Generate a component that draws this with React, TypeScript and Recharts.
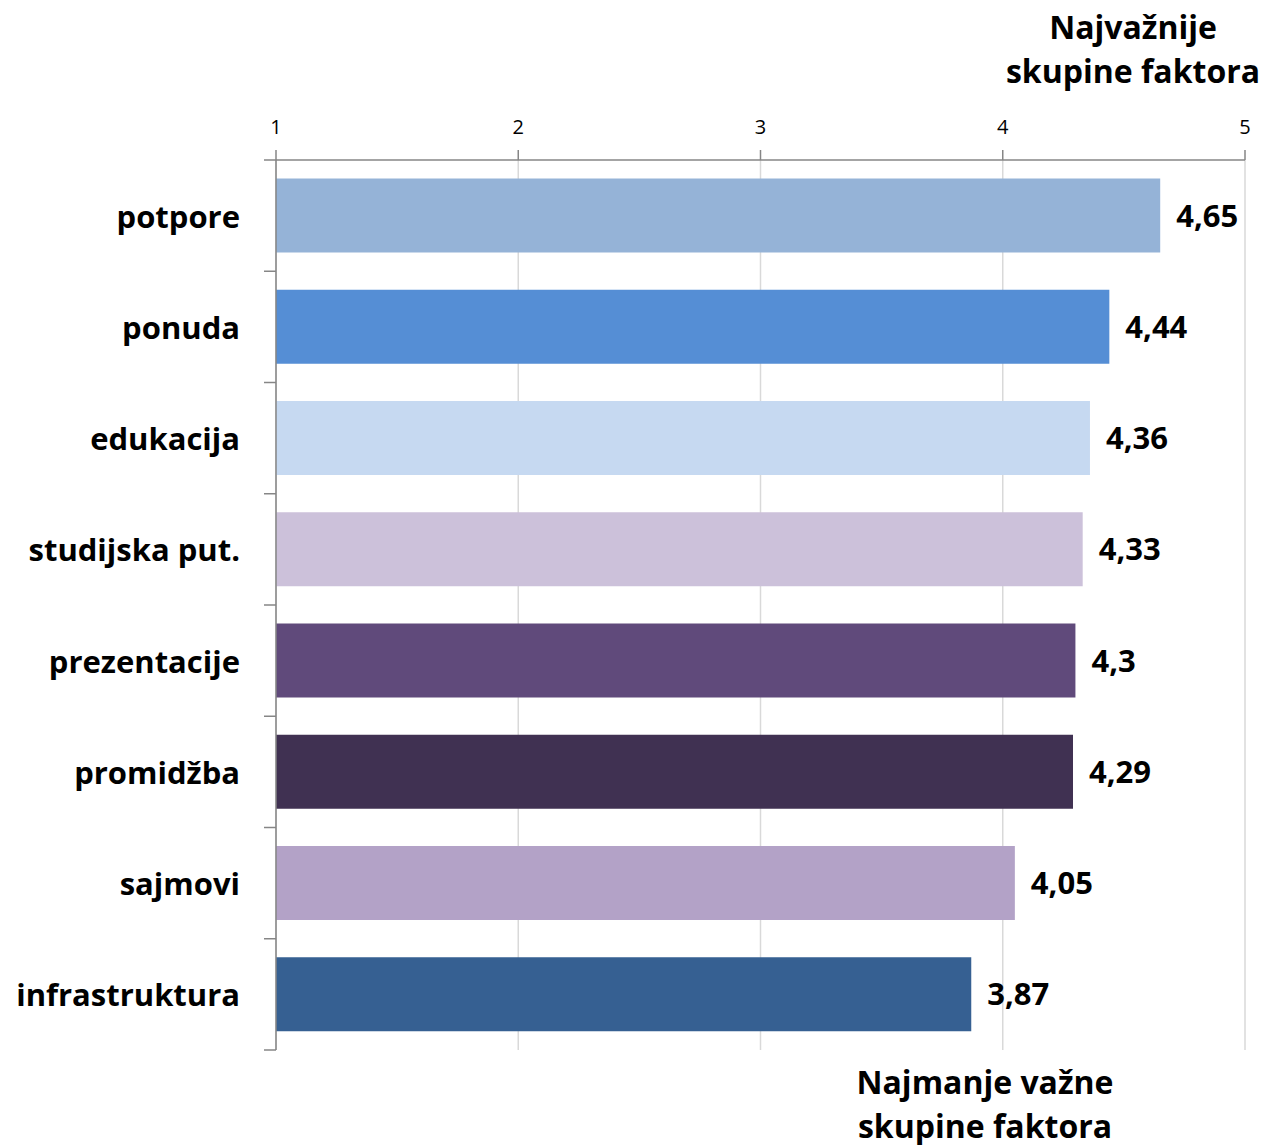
import { Bar, BarChart, CartesianGrid, Cell, LabelList, XAxis, YAxis } from 'recharts';

const categories = [
  'potpore',
  'ponuda',
  'edukacija',
  'studijska put.',
  'prezentacije',
  'promidžba',
  'sajmovi',
  'infrastruktura',
];
const scores = [4.65, 4.44, 4.36, 4.33, 4.3, 4.29, 4.05, 3.87];
const barColors = ['#95B3D7', '#558ED5', '#C6D9F1', '#CCC1DA', '#604A7B', '#403152', '#B3A2C7', '#366092'];
const scaleTicks = [1, 2, 3, 4, 5];

const data = categories.map((name, i) => ({ name, score: scores[i] }));

const FONT = '"Open Sans", "DejaVu Sans", sans-serif';
const PLOT_TOP = 160;
const PLOT_BOTTOM = 1050;
const X_AXIS_HEIGHT = 30;
const BAND = (PLOT_BOTTOM - PLOT_TOP) / categories.length;

// category label plus a small tick at the band boundary above it
function CategoryTick(props: any) {
  const { y, payload, index } = props;
  const top = y - BAND / 2;
  return (
    <g>
      <line x1={264} x2={276} y1={top} y2={top} stroke="#868686" strokeWidth={1.5} />
      {index === categories.length - 1 && (
        <line x1={264} x2={276} y1={top + BAND} y2={top + BAND} stroke="#868686" strokeWidth={1.5} />
      )}
      <text
        x={240}
        y={y}
        textAnchor="end"
        dominantBaseline="central"
        fontFamily={FONT}
        fontWeight={700}
        fontSize={31}
        fill="#000"
      >
        {payload.value}
      </text>
    </g>
  );
}

const titleStyle: React.CSSProperties = {
  position: 'absolute',
  fontFamily: FONT,
  fontWeight: 700,
  fontSize: 32,
  lineHeight: '44px',
  textAlign: 'center',
  color: '#000',
};

export default function App() {
  return (
    <div style={{ position: 'absolute', left: 0, top: 0, width: 1262, height: 1145, background: '#fff' }}>
      <BarChart
        width={1262}
        height={1145}
        data={data}
        layout="vertical"
        margin={{ top: PLOT_TOP - X_AXIS_HEIGHT, right: 17, bottom: 1145 - PLOT_BOTTOM, left: 16 }}
        barCategoryGap="16.7%"
      >
        <CartesianGrid horizontal={false} stroke="#d9d9d9" strokeWidth={1.5} />
        <XAxis
          type="number"
          orientation="top"
          height={X_AXIS_HEIGHT}
          domain={[1, 5]}
          ticks={scaleTicks}
          allowDataOverflow
          axisLine={{ stroke: '#868686', strokeWidth: 1.5 }}
          tickLine={{ stroke: '#868686', strokeWidth: 1.5 }}
          tickSize={10}
          tickMargin={16}
          tick={{ fontFamily: FONT, fontSize: 20, fill: '#000' }}
        />
        <YAxis
          type="category"
          dataKey="name"
          width={260}
          axisLine={{ stroke: '#868686', strokeWidth: 1.5 }}
          tickLine={false}
          tick={<CategoryTick />}
        />
        <Bar dataKey="score" isAnimationActive={false}>
          {data.map((d, i) => (
            <Cell key={d.name} fill={barColors[i]} />
          ))}
          <LabelList
            dataKey="score"
            position="right"
            offset={16}
            formatter={(v: any) => String(v).replace('.', ',')}
            style={{ fontFamily: FONT, fontWeight: 700, fontSize: 31, fill: '#000' }}
          />
        </Bar>
      </BarChart>
      <div style={{ ...titleStyle, left: 1005, top: 5, width: 256 }}>
        Najvažnije
        <br />
        skupine faktora
      </div>
      <div style={{ ...titleStyle, left: 845, top: 1060, width: 280 }}>
        Najmanje važne
        <br />
        skupine faktora
      </div>
    </div>
  );
}
